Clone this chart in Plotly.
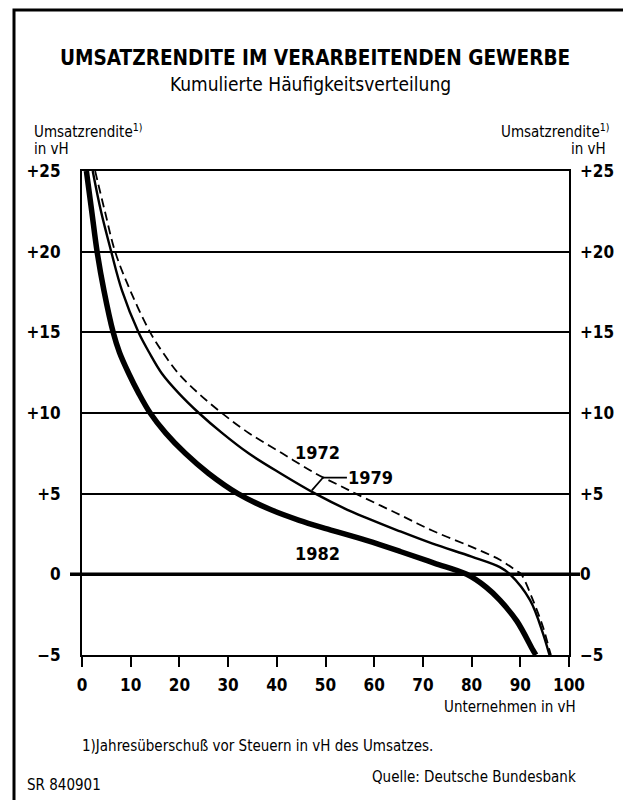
import plotly.graph_objects as go

# ---------------- data ----------------
y_ticks = [-5, 0, 5, 10, 15, 20, 25]
y_tick_labels = ["\u22125", "0", "+5", "+10", "+15", "+20", "+25"]
x_ticks = [0, 10, 20, 30, 40, 50, 60, 70, 80, 90, 100]

# 1972 (dashed): share of firms (x, %) vs. return on sales (y, %)
x_1972 = [2.7, 4.7, 6.8, 9.9, 14.0, 16.6, 19.8, 23.8, 28.7, 34.3, 41.1, 47.9, 53.4, 56.2, 64.5, 72.0, 80.0, 85.8, 89.3, 90.2, 92.6, 94.7, 96.0, 96.3]
y_1972 = [25, 22.5, 20, 17.6, 15, 13.75, 12.45, 11.25, 10, 8.75, 7.5, 6.26, 5.43, 5.0, 3.8, 2.7, 1.7, 0.9, 0.2, 0, -1.6, -3.3, -4.7, -5]

# 1979 (thin solid)
x_1979 = [2.2, 3.9, 6.0, 8.2, 11.6, 13.8, 16.4, 19.8, 24.0, 28.8, 34.2, 40.8, 47.9, 54.5, 58.4, 65.0, 72.0, 80.0, 85.8, 87.9, 92.0, 94.7, 95.7, 96.0]
y_1979 = [25, 22.5, 20, 17.6, 15, 13.75, 12.45, 11.25, 10, 8.75, 7.5, 6.25, 5.0, 4.0, 3.5, 2.7, 1.9, 1.1, 0.45, 0, -1.6, -3.7, -4.7, -5]

# 1982 (thick)
x_1982 = [0.9, 2.0, 3.1, 4.5, 6.4, 7.7, 9.6, 11.6, 14.0, 17.2, 21.2, 26.0, 32.0, 38.8, 44.6, 50.5, 58.4, 65.5, 72.3, 79.0, 83.0, 85.8, 89.3, 92.6, 93.2]
y_1982 = [25, 22.5, 20, 17.6, 15, 13.75, 12.45, 11.25, 10, 8.75, 7.5, 6.25, 5.0, 4.0, 3.35, 2.8, 2.1, 1.4, 0.7, 0, -0.8, -1.6, -2.9, -4.7, -5]

# ---------------- layout helpers ----------------
OFF = 8                      # page body margin of the html page
W, H = 631 - OFF, 800 - OFF
# plot area in reference pixels: x 82..569, y 171..655
L, T = 82 - OFF, 171 - OFF
R = W - (569 - OFF)
B = H - (655 - OFF)
PW, PH = W - L - R, H - T - B

def px(x):
    return (x - OFF - L) / PW

def py(y):
    return (H - B - (y - OFF)) / PH

FONT = "DejaVu Sans Condensed, DejaVu Sans, sans-serif"

fig = go.Figure()

fig.add_trace(go.Scatter(x=x_1972, y=y_1972, mode="lines", name="1972",
                         line=dict(color="black", width=1.8, dash="9px,5px", shape="spline", smoothing=1.0),
                         showlegend=False))
fig.add_trace(go.Scatter(x=x_1979, y=y_1979, mode="lines", name="1979",
                         line=dict(color="black", width=2.4, shape="spline", smoothing=1.0),
                         showlegend=False))
fig.add_trace(go.Scatter(x=x_1982, y=y_1982, mode="lines", name="1982",
                         line=dict(color="black", width=5.5, shape="spline", smoothing=1.0),
                         showlegend=False))
# invisible trace for right axis
fig.add_trace(go.Scatter(x=[0, 100], y=[-5, 25], yaxis="y2", mode="markers",
                         marker=dict(opacity=0), showlegend=False, hoverinfo="skip"))

TICKFONT = dict(size=17, family="DejaVu Sans Condensed", color="black", weight="bold")

fig.update_layout(
    width=W, height=H,
    margin=dict(l=L, r=R, t=T, b=B, pad=0),
    paper_bgcolor="white", plot_bgcolor="white",
    font=dict(family=FONT, color="black", size=16),
    xaxis=dict(range=[0, 100], tickvals=x_ticks, ticks="outside", ticklen=10, tickwidth=2,
               tickcolor="black", showline=True, linecolor="black", linewidth=2, mirror=True,
               showgrid=False, zeroline=False, tickfont=TICKFONT, ticklabelstandoff=4),
    yaxis=dict(range=[-5, 25], tickvals=y_ticks, ticktext=y_tick_labels, ticks="",
               showline=True, linecolor="black", linewidth=2, mirror=True,
               showgrid=True, gridcolor="black", gridwidth=1.8, zeroline=False,
               tickfont=TICKFONT, ticklabelstandoff=16),
    yaxis2=dict(range=[-5, 25], tickvals=y_ticks, ticktext=y_tick_labels, ticks="",
                overlaying="y", side="right", showline=False, showgrid=False, zeroline=False,
                tickfont=TICKFONT, ticklabelstandoff=10),
)

shapes = []
# bold zero line extending beyond the plot
shapes.append(dict(type="line", xref="paper", yref="y", x0=px(70), x1=px(580), y0=0, y1=0,
                   line=dict(color="black", width=3.5)))
# leader line for 1979
shapes.append(dict(type="path", xref="x", yref="y",
                   path="M 47.2 5.2 L 49.5 6.0 L 54.4 6.0",
                   line=dict(color="black", width=1.8)))
# outer frame
shapes.append(dict(type="rect", xref="paper", yref="paper", x0=px(14), x1=px(626), y0=py(10), y1=py(812),
                   line=dict(color="black", width=3), fillcolor="rgba(0,0,0,0)"))
fig.update_layout(shapes=shapes)

ann = []
def text(x, y, s, size=15, xanchor="center", bold=False):
    ann.append(dict(xref="paper", yref="paper", x=px(x), y=py(y), text=(f"<b>{s}</b>" if bold else s),
                    showarrow=False, xanchor=xanchor, yanchor="middle",
                    font=dict(size=size, family=FONT, color="black")))

text(315, 58, "UMSATZRENDITE IM VERARBEITENDEN GEWERBE", size=20.6, bold=True)
text(310, 84, "Kumulierte Häufigkeitsverteilung", size=19)
text(32, 131, "Umsatzrendite<sup>1)</sup>", size=15, xanchor="left")
text(32, 149, "in vH", size=15, xanchor="left")
text(611, 131, "Umsatzrendite<sup>1)</sup>", size=15, xanchor="right")
text(608, 149, "in vH", size=15, xanchor="right")
text(578, 707, "Unternehmen in vH", size=15, xanchor="right")
text(80, 746, "1)Jahresüberschuß vor Steuern in vH des Umsatzes.", size=15, xanchor="left")
text(578, 777, "Quelle: Deutsche Bundesbank", size=15, xanchor="right")
text(25, 785, "SR 840901", size=15, xanchor="left")
# curve labels
text(317, 452, "1972", size=18, bold=True)
text(370, 477, "1979", size=18, bold=True)
text(317, 553, "1982", size=18, bold=True)
fig.update_layout(annotations=ann)

fig.write_html("out.html")
